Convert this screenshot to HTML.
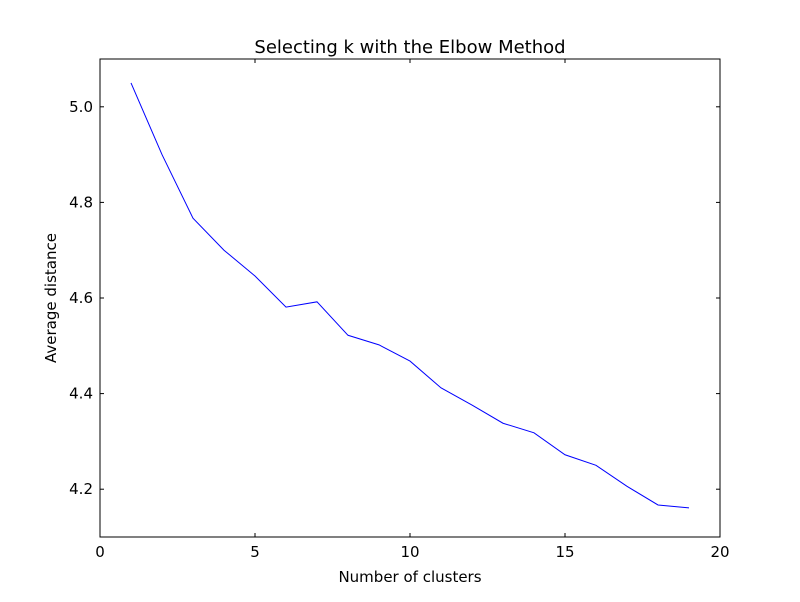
<!DOCTYPE html>
<html><head><meta charset="utf-8"><style>
body{margin:0;background:#fff;font-family:"Liberation Sans","DejaVu Sans",sans-serif}
svg text{font-family:"DejaVu Sans","Liberation Sans",sans-serif}
</style></head><body>
<svg id="chart" width="800" height="597" xmlns="http://www.w3.org/2000/svg">
<rect width="800" height="597" fill="#fff"/>
<g id="plot"></g>
</svg>
<script>
const clusters=[1,2,3,4,5,6,7,8,9,10,11,12,13,14,15,16,17,18,19];
const avgDistance=[5.05,4.90,4.767,4.70,4.646,4.581,4.592,4.522,4.502,4.468,4.412,4.376,4.338,4.318,4.272,4.250,4.206,4.167,4.161];
const xTicks=[0,5,10,15,20];
const yTicks=[4.2,4.4,4.6,4.8,5.0];
const yTickLabels=["4.2","4.4","4.6","4.8","5.0"];
const L=100,R=720,T=59,B=537,x0=0,x1=20,y0=4.1,y1=5.1;
const xs=v=>L+(v-x0)/(x1-x0)*(R-L);
const ys=v=>B-(v-y0)/(y1-y0)*(B-T);
const NS="http://www.w3.org/2000/svg";
const g=document.getElementById('plot');
function mk(t,a,txt){const e=document.createElementNS(NS,t);for(const k in a)e.setAttribute(k,a[k]);if(txt!=null)e.textContent=txt;g.appendChild(e);return e;}
let d=clusters.map((c,i)=>(i?'L':'M')+xs(c)+','+ys(avgDistance[i])).join(' ');
const line=mk('path',{d:d,fill:'none',stroke:'#0000ff','stroke-width':1});


const frame=mk('rect',{x:L,y:T,width:R-L,height:B-T,fill:'none',stroke:'#000','stroke-width':1});


xTicks.forEach(v=>{const x=xs(v);
mk('line',{x1:x,x2:x,y1:B,y2:B-4,stroke:'#000'});mk('line',{x1:x,x2:x,y1:T,y2:T+4,stroke:'#000'});
const t=mk('text',{x:x,y:B+20,'text-anchor':'middle','font-size':15},String(v));

});
yTicks.forEach((v,i)=>{const y=ys(v);
mk('line',{x1:L,x2:L+4,y1:y,y2:y,stroke:'#000'});mk('line',{x1:R,x2:R-4,y1:y,y2:y,stroke:'#000'});
const t=mk('text',{x:L-7,y:y+5,'text-anchor':'end','font-size':15},yTickLabels[i]);

});
const tt=mk('text',{x:410,y:53,'text-anchor':'middle','font-size':18},'Selecting k with the Elbow Method');


const xl=mk('text',{x:410,y:582,'text-anchor':'middle','font-size':15},'Number of clusters');


const yl=mk('text',{x:56,y:298,'text-anchor':'middle','font-size':15,transform:'rotate(-90 56 298)'},'Average distance');


</script>
</body></html>
